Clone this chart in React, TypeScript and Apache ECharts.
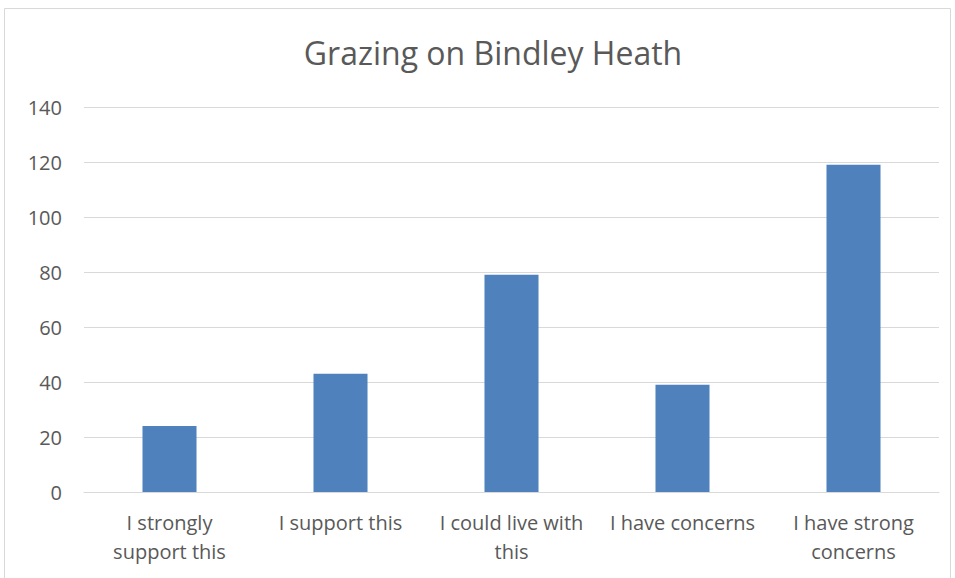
import React, { useEffect, useRef } from "react";
import * as echarts from "echarts";

const title = "Grazing on Bindley Heath";
const categories = [
  "I strongly\nsupport this",
  "I support this",
  "I could live with\nthis",
  "I have concerns",
  "I have strong\nconcerns",
];
const values = [24, 43, 79, 39, 119];
const yMin = 0;
const yMax = 140;
const yInterval = 20;

const FONT = "'Open Sans', 'Noto Sans', sans-serif";

export default function App() {
  const ref = useRef<HTMLDivElement>(null);
  useEffect(() => {
    document.body.style.margin = "0";
    if (!ref.current) return;
    const chart = echarts.init(ref.current, null, { renderer: "svg" });
    chart.setOption({
      animation: false,
      backgroundColor: "#ffffff",
      title: {
        text: title,
        left: 488,
        textAlign: "center",
        top: 31,
        textStyle: {
          fontFamily: FONT,
          fontSize: 32,
          fontWeight: "normal",
          color: "#595959",
        },
      },
      graphic: [
        {
          type: "rect",
          shape: { x: 4.5, y: 8.5, width: 946, height: 600 },
          style: { fill: "none", stroke: "#d9d9d9", lineWidth: 1 },
          silent: true,
          z: -1,
        },
      ],
      grid: { left: 84, right: 16, top: 107, bottom: 86 },
      xAxis: {
        type: "category",
        data: categories,
        axisLine: { show: true, lineStyle: { color: "#d9d9d9", width: 1 } },
        axisTick: { show: false },
        axisLabel: {
          interval: 0,
          margin: 16,
          fontFamily: FONT,
          fontSize: 20,
          lineHeight: 29,
          color: "#595959",
        },
      },
      yAxis: {
        type: "value",
        min: yMin,
        max: yMax,
        interval: yInterval,
        axisLine: { show: false },
        axisTick: { show: false },
        splitLine: { lineStyle: { color: "#d9d9d9", width: 1 } },
        axisLabel: {
          margin: 22,
          fontFamily: FONT,
          fontSize: 20,
          color: "#595959",
        },
      },
      series: [
        {
          type: "bar",
          data: values,
          barWidth: "31.6%",
          itemStyle: { color: "#4f81bd" },
        },
      ],
    });
    return () => chart.dispose();
  }, []);
  return <div ref={ref} style={{ width: 955, height: 578 }} />;
}
